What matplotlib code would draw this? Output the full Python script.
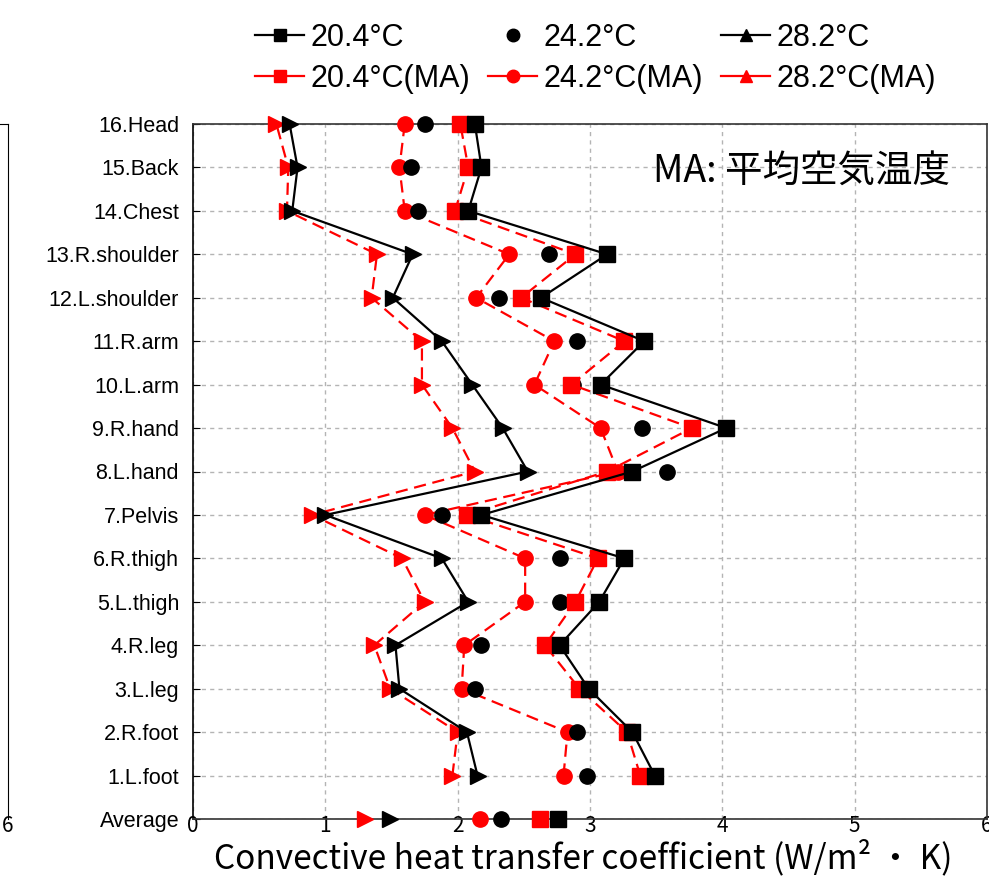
import matplotlib
matplotlib.use("Agg")
import matplotlib.pyplot as plt
from matplotlib.lines import Line2D

# body parts, bottom -> top (Average first)
parts = ["Average", "1.L.foot", "2.R.foot", "3.L.leg", "4.R.leg", "5.L.thigh",
         "6.R.thigh", "7.Pelvis", "8.L.hand", "9.R.hand", "10.L.arm", "11.R.arm",
         "12.L.shoulder", "13.R.shoulder", "14.Chest", "15.Back", "16.Head"]

t204 = [2.76, 3.49, 3.32, 2.99, 2.77, 3.07, 3.26, 2.18, 3.32, 4.03, 3.08, 3.41,
        2.63, 3.13, 2.08, 2.18, 2.13]
t242 = [2.33, 2.98, 2.90, 2.13, 2.18, 2.77, 2.77, 1.88, 3.58, 3.39, 2.87, 2.90,
        2.31, 2.69, 1.70, 1.65, 1.75]
t282 = [1.49, 2.15, 2.07, 1.56, 1.53, 2.08, 1.88, 1.00, 2.53, 2.34, 2.11, 1.88,
        1.51, 1.66, 0.75, 0.79, 0.73]
t204_ma = [2.62, 3.38, 3.28, 2.92, 2.66, 2.89, 3.06, 2.07, 3.13, 3.77, 2.86, 3.26,
           2.48, 2.89, 1.98, 2.08, 2.02]
t242_ma = [2.17, 2.80, 2.83, 2.03, 2.05, 2.51, 2.51, 1.75, 3.21, 3.08, 2.58, 2.73,
           2.14, 2.39, 1.60, 1.56, 1.60]
t282_ma = [1.30, 1.96, 2.00, 1.49, 1.37, 1.75, 1.58, 0.90, 2.13, 1.96, 1.73, 1.73,
           1.35, 1.39, 0.71, 0.72, 0.63]

labels = ["20.4°C", "24.2°C", "28.2°C", "20.4°C(MA)", "24.2°C(MA)", "28.2°C(MA)"]

W, H = 989, 876
fig = plt.figure(figsize=(W / 100, H / 100), dpi=100)
L, R, B, T = 193 / W, 987 / W, 1 - 819 / H, 1 - 124 / H
ax = fig.add_axes([L, B, R - L, T - B])

y = list(range(len(parts)))
ms = 11
dash = (5.5, 3)

def draw(vals, color, marker, ls, line=True):
    kw = dict(color=color, marker=marker, markersize=ms, clip_on=False, zorder=3)
    if line and ls == "--":
        ax.plot(vals[1:], y[1:], ls="--", lw=1.6, dashes=dash, **kw)
    elif line:
        ax.plot(vals[1:], y[1:], ls="-", lw=1.6, **kw)
    else:
        ax.plot(vals[1:], y[1:], ls="none", **kw)
    ax.plot(vals[:1], y[:1], ls="none", **kw)

draw(t282_ma, "red", ">", "--")
draw(t282, "black", ">", "-")
draw(t242_ma, "red", "o", "--")
draw(t242, "black", "o", "-", line=False)
draw(t204_ma, "red", "s", "--")
draw(t204, "black", "s", "-")

ax.set_xlim(0, 6)
ax.set_ylim(0, len(parts) - 1)
ax.set_yticks(y)
ax.set_yticklabels(parts, fontsize=15.5, family="Liberation Sans")
ax.set_xticks(range(7))
ax.set_xticklabels([str(i) for i in range(7)], fontsize=15, family="Noto Sans CJK JP")
ax.tick_params(axis="x", length=0, pad=-3)
ax.tick_params(axis="y", direction="in", length=5, pad=10)
ax.grid(True, color="#b4b4b4", ls=(0, (3, 3)), lw=1)
ax.set_axisbelow(True)
for s in ax.spines.values():
    s.set_color("#333333")
    s.set_linewidth(1.2)
ax.spines["left"].set_color("black")

fig.text(583 / W, 1 - 858 / H, "Convective heat transfer coefficient (W/m² ・ K)",
         fontsize=24, family="Noto Sans CJK JP", ha="center", va="center")
ax.text(0.953, 0.932, "MA: 平均空気温度", transform=ax.transAxes, ha="right", va="center",
        fontsize=27, family="Noto Sans CJK JP", zorder=5)

# fragment of the neighbouring chart on the left edge
ax2 = fig.add_axes([-0.5, B, 0.5 + 8 / W, T - B])
ax2.set_xlim(0, 6)
ax2.set_ylim(0, len(parts) - 1)
ax2.set_yticks(y)
ax2.set_yticklabels([])
ax2.set_xticks([6])
ax2.set_xticklabels(["6"], fontsize=15, family="Noto Sans CJK JP")
ax2.tick_params(axis="x", length=0, pad=-3)
ax2.tick_params(axis="y", direction="in", length=5)
ax2.spines["left"].set_visible(False)
ax2.spines["bottom"].set_visible(False)
ax2.spines["right"].set_color("black")

lms = 9
handles = [
    Line2D([], [], color="black", marker="s", ls="-", lw=1.6, markersize=lms),
    Line2D([], [], color="black", marker="o", ls="none", markersize=lms),
    Line2D([], [], color="black", marker="^", ls="-", lw=1.6, markersize=lms),
    Line2D([], [], color="red", marker="s", ls="-", lw=1.6, markersize=lms),
    Line2D([], [], color="red", marker="o", ls="-", lw=1.6, markersize=lms),
    Line2D([], [], color="red", marker="^", ls="-", lw=1.6, markersize=lms),
]
order = [0, 3, 1, 4, 2, 5]
fig.legend([handles[i] for i in order], [labels[i] for i in order],
           loc="upper center", bbox_to_anchor=(0.602, 1.005), ncol=3,
           frameon=False, prop={"family": "Liberation Sans", "size": 22},
           handlelength=1.6, handletextpad=0.2, columnspacing=0.6, labelspacing=0.35)

fig.savefig("out.png", dpi=100)
